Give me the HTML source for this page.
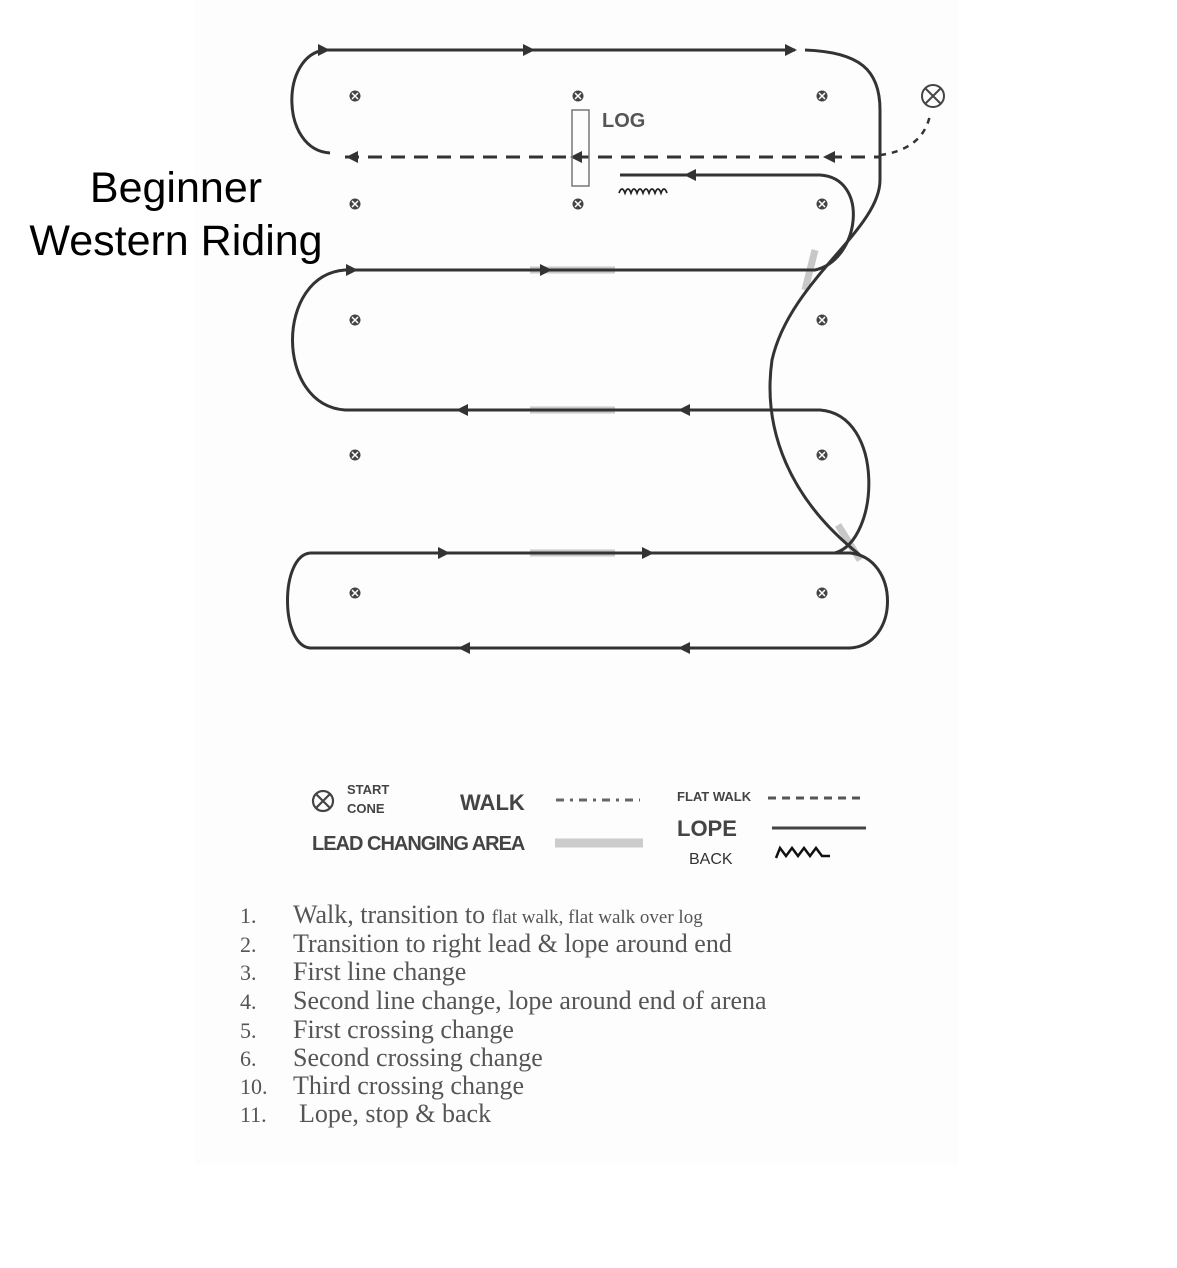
<!DOCTYPE html>
<html><head><meta charset="utf-8"><style>
html,body{margin:0;padding:0;background:#fff;}
body{width:1177px;height:1268px;position:relative;overflow:hidden;}
svg{position:absolute;left:0;top:0;}
</style></head><body>
<svg width="1177" height="1268" viewBox="0 0 1177 1268" xmlns="http://www.w3.org/2000/svg">
<defs>
<g id="cone"><circle r="5.5" fill="#444"/><path d="M-3,-3 L3,3 M3,-3 L-3,3" stroke="#fff" stroke-width="1.5"/></g>
</defs>
<rect x="195" y="0" width="763" height="1165" fill="#fdfdfd"/>
<g fill="none" stroke="#333" stroke-width="3">
<g stroke="#c8c8c8" stroke-width="7">
<line x1="530" y1="270" x2="615" y2="270"/><line x1="530" y1="410" x2="615" y2="410"/><line x1="530" y1="553" x2="615" y2="553"/>
<line x1="815" y1="250" x2="805" y2="290"/><line x1="838" y1="525" x2="860" y2="560"/>
</g>
<path d="M330,153 C280,150 280,55 325,50 L795,50"/>
<path d="M805,50 C860,52 880,70 880,110 L880,180 C880,230 790,280 772,360 C762,430 790,500 860,555"/>
<path d="M345,157 L880,157" stroke-dasharray="14,9"/>
<path d="M880,155 C905,152 925,140 930,115" stroke-dasharray="6,6" stroke-width="2.5"/>
<path d="M620,175 L820,175 C870,178 860,260 815,270 L345,270 C275,275 275,405 345,410 L820,410 C885,415 880,540 835,553"/>
<path d="M310,553 L850,553 C900,558 900,645 850,648 L310,648 C280,645 280,556 310,553"/>
</g>
<g fill="#333">
<path d="M318,44 L330,50 L318,56 z"/><path d="M523,44 L535,50 L523,56 z"/><path d="M785,44 L797,50 L785,56 z"/>
<path d="M358,151 L346,157 L358,163 z"/><path d="M582,151 L570,157 L582,163 z"/><path d="M835,151 L823,157 L835,163 z"/>
<path d="M696,169 L684,175 L696,181 z"/>
<path d="M346,264 L358,270 L346,276 z"/><path d="M540,264 L552,270 L540,276 z"/>
<path d="M468,404 L456,410 L468,416 z"/><path d="M690,404 L678,410 L690,416 z"/>
<path d="M438,547 L450,553 L438,559 z"/><path d="M642,547 L654,553 L642,559 z"/>
<path d="M470,642 L458,648 L470,654 z"/><path d="M690,642 L678,648 L690,654 z"/>
</g>
<rect x="572" y="110" width="17" height="76" fill="none" stroke="#777" stroke-width="1.5"/>
<text x="602" y="127" font-family="Liberation Sans, sans-serif" font-size="20" font-weight="bold" fill="#555">LOG</text>
<path d="M619,193 q3,-8 6,0 q3,-8 6,0 q3,-8 6,0 q3,-8 6,0 q3,-8 6,0 q3,-8 6,0 q3,-8 6,0 q3,-8 6,0" fill="none" stroke="#222" stroke-width="1.8"/>
<use href="#cone" x="355" y="96"/><use href="#cone" x="578" y="96"/><use href="#cone" x="822" y="96"/>
<use href="#cone" x="355" y="204"/><use href="#cone" x="578" y="204"/><use href="#cone" x="822" y="204"/>
<use href="#cone" x="355" y="320"/><use href="#cone" x="822" y="320"/>
<use href="#cone" x="355" y="455"/><use href="#cone" x="822" y="455"/>
<use href="#cone" x="355" y="593"/><use href="#cone" x="822" y="593"/>
<g stroke="#444" stroke-width="2" fill="none"><circle cx="933" cy="96" r="11"/><path d="M925,88 L941,104 M941,88 L925,104"/></g>
<text x="176" y="202" text-anchor="middle" font-family="Liberation Sans, sans-serif" font-size="43" fill="#000">Beginner</text>
<text x="176" y="255" text-anchor="middle" font-family="Liberation Sans, sans-serif" font-size="43" fill="#000">Western Riding</text>
<g stroke="#444" stroke-width="2.2" fill="none"><circle cx="323" cy="801" r="10"/><path d="M316,794 L330,808 M330,794 L316,808"/></g>
<g font-family="Liberation Sans, sans-serif" font-weight="bold" fill="#444">
<text x="347" y="794" font-size="13">START</text><text x="347" y="813" font-size="13">CONE</text>
<text x="460" y="810" font-size="22">WALK</text>
<text x="312" y="850" font-size="20" letter-spacing="-1">LEAD CHANGING AREA</text>
<text x="677" y="801" font-size="13">FLAT WALK</text>
<text x="677" y="836" font-size="22">LOPE</text>
</g>
<text x="689" y="864" font-family="Liberation Sans, sans-serif" font-size="16" fill="#333">BACK</text>
<path d="M556,800 L640,800" stroke="#666" stroke-width="3" stroke-dasharray="8,6,3,6"/>
<path d="M768,798 L866,798" stroke="#555" stroke-width="3" stroke-dasharray="8,6"/>
<line x1="555" y1="843" x2="643" y2="843" stroke="#ccc" stroke-width="9"/>
<line x1="772" y1="828" x2="866" y2="828" stroke="#444" stroke-width="3"/>
<path d="M776,858 l4,-10 l6,8 l6,-8 l6,8 l6,-8 l6,8 l6,-8 l6,8 l8,0" fill="none" stroke="#111" stroke-width="2.5"/>
<g font-family="Liberation Serif, serif" font-size="26" fill="#555">
<text x="240" y="923" font-size="22">1.</text><text x="293" y="923">Walk, transition to <tspan font-size="19">flat walk, flat walk over log</tspan></text>
<text x="240" y="952" font-size="22">2.</text><text x="293" y="952">Transition to right lead &amp; lope around end</text>
<text x="240" y="980" font-size="22">3.</text><text x="293" y="980">First line change</text>
<text x="240" y="1009" font-size="22">4.</text><text x="293" y="1009">Second line change, lope around end of arena</text>
<text x="240" y="1038" font-size="22">5.</text><text x="293" y="1038">First crossing change</text>
<text x="240" y="1066" font-size="22">6.</text><text x="293" y="1066">Second crossing change</text>
<text x="240" y="1094" font-size="22">10.</text><text x="293" y="1094">Third crossing change</text>
<text x="240" y="1122" font-size="22">11.</text><text x="299" y="1122">Lope, stop &amp; back</text>
</g>
</svg>
</body></html>
